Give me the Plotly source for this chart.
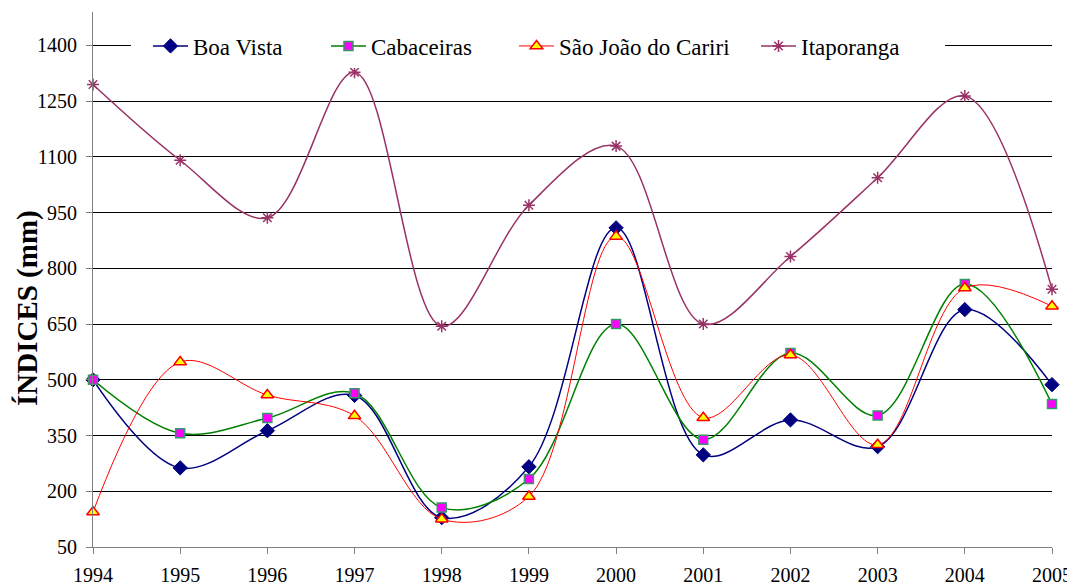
import plotly.graph_objects as go

years = [1994, 1995, 1996, 1997, 1998, 1999, 2000, 2001, 2002, 2003, 2004, 2005]
boa_vista = [500, 263, 363, 458, 129, 266, 909, 298, 392, 320, 689, 487]
cabaceiras = [500, 356, 397, 464, 156, 233, 650, 339, 572, 404, 758, 435]
sao_joao = [144, 548, 459, 403, 125, 186, 886, 398, 567, 325, 747, 698]
itaporanga = [1295, 1091, 936, 1328, 644, 970, 1129, 650, 832, 1044, 1264, 744]
y_ticks = [50, 200, 350, 500, 650, 800, 950, 1100, 1250, 1400]

FONT = "Liberation Serif, Times New Roman, serif"

fig = go.Figure()
fig.add_trace(go.Scatter(
    x=years, y=boa_vista, name="Boa Vista", mode="lines+markers", legend="legend",
    line=dict(color="#000080", width=1.5, shape="spline", smoothing=1),
    marker=dict(symbol="diamond", size=11, color="#000080", line=dict(color="#000080", width=1)),
    cliponaxis=False))
fig.add_trace(go.Scatter(
    x=years, y=cabaceiras, name="Cabaceiras", mode="lines+markers", legend="legend2",
    line=dict(color="#008000", width=1.5, shape="spline", smoothing=1),
    marker=dict(symbol="square", size=9, color="#FF00FF", line=dict(color="#339966", width=1.5)),
    cliponaxis=False))
fig.add_trace(go.Scatter(
    x=years, y=sao_joao, name="São João do Cariri", mode="lines+markers", legend="legend3",
    line=dict(color="#FF0000", width=1, shape="spline", smoothing=1),
    marker=dict(symbol="triangle-up", size=11, color="#FFFF00", line=dict(color="#FF0000", width=1.5)),
    cliponaxis=False))
fig.add_trace(go.Scatter(
    x=years, y=itaporanga, name="Itaporanga", mode="lines+markers", legend="legend4",
    line=dict(color="#993366", width=1.5, shape="spline", smoothing=1),
    marker=dict(symbol="asterisk-open", size=10, color="#993366", line=dict(color="#993366", width=1.5)),
    cliponaxis=False))

# page pixel geometry (the page body adds an 8px offset)
OFF = 8
PX_LEFT, PX_RIGHT, PX_TOP, PX_BOTTOM = 93, 1052, 12, 547
W, H = 1075 - OFF, 587 - OFF
L, T = PX_LEFT - OFF, PX_TOP - OFF
R, B = W - (PX_RIGHT - OFF), H - (PX_BOTTOM - OFF)
pw, ph = PX_RIGHT - PX_LEFT, PX_BOTTOM - PX_TOP


def px_x(px):
    return (px - PX_LEFT) / pw


def px_y(py):
    return (PX_BOTTOM - py) / ph


def legend_at(px):
    return dict(orientation="h", x=px_x(px), xanchor="left", y=px_y(46),
                yanchor="middle", bgcolor="white", borderwidth=0,
                font=dict(family=FONT, size=23, color="black"), itemwidth=35)


fig.update_layout(
    width=W, height=H,
    margin=dict(l=L, r=R, t=T, b=B),
    paper_bgcolor="white", plot_bgcolor="white",
    font=dict(family=FONT, size=20, color="black"),
    showlegend=True,
    legend=legend_at(148),
    legend2=legend_at(326),
    legend3=legend_at(514),
    legend4=legend_at(756),
    xaxis=dict(range=[1994, 2005], tickvals=years, ticktext=[str(y) for y in years],
               showgrid=False, zeroline=False, showline=True, linecolor="#808080", linewidth=1,
               ticks="outside", ticklen=6, tickcolor="#808080", automargin=False,
               ticklabelstandoff=4,
               tickfont=dict(family=FONT, size=20, color="black")),
    yaxis=dict(range=[50, 1490], tickvals=y_ticks,
               showgrid=True, gridcolor="black", gridwidth=1, zeroline=False,
               showline=True, linecolor="#808080", linewidth=1,
               ticks="outside", ticklen=6, tickcolor="#808080", automargin=False,
               ticklabelstandoff=5,
               tickfont=dict(family=FONT, size=20, color="black")),
    shapes=[dict(type="rect", xref="paper", yref="y", x0=px_x(131), x1=px_x(945),
                 y0=1385, y1=1415, fillcolor="white", line=dict(width=0), layer="above")],
    annotations=[dict(text="<b>ÍNDICES (mm)</b>", textangle=-90, xref="paper", yref="paper",
                      x=px_x(27), y=px_y(308), xanchor="center", yanchor="middle",
                      showarrow=False, borderpad=0,
                      font=dict(family=FONT, size=29, color="black"))],
)

fig.write_html("out.html")
